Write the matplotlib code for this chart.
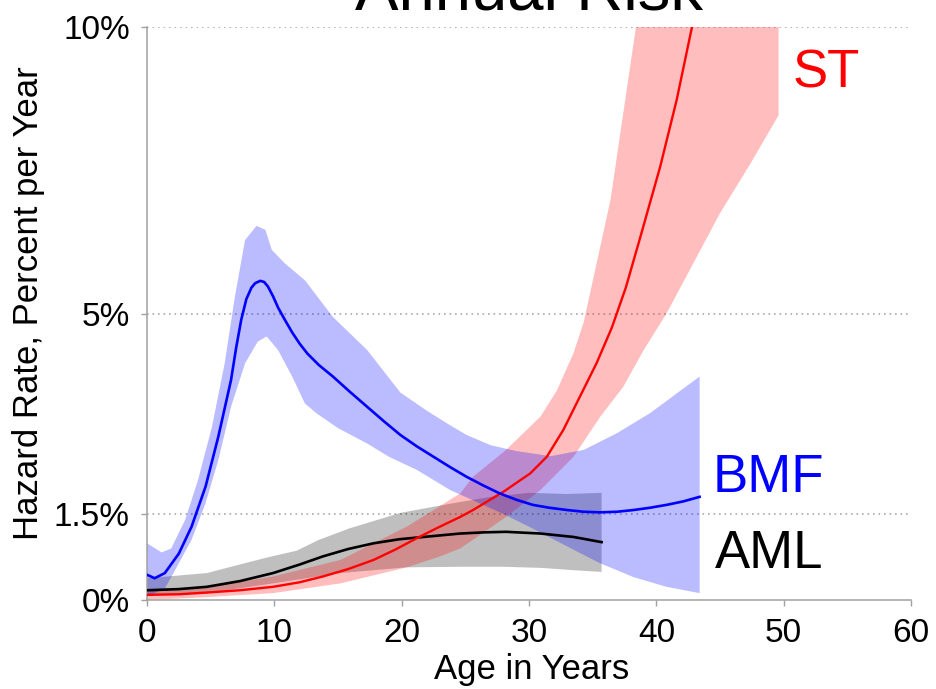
import matplotlib
matplotlib.use("Agg")
import matplotlib.pyplot as plt

plt.rcParams['font.family'] = ['Liberation Sans', 'DejaVu Sans']

# ---------------- data ----------------
title = "Annual Risk"
x_label = "Age in Years"
y_label = "Hazard Rate, Percent per Year"
y_ticks = [0, 1.5, 5, 10]
y_tick_labels = ["0%", "1.5%", "5%", "10%"]
x_ticks = [0, 10, 20, 30, 40, 50, 60]

# BMF (bone marrow failure)
bmf_x = [0, 0.6, 1.4, 2.5, 3.5, 4.6, 5.6, 6.6, 7.0, 7.4, 7.8, 8.2, 8.5, 8.9, 9.2, 9.5, 9.9,
         10.3, 10.8, 11.4, 12.0, 12.6, 13.5, 14.6, 16.0, 17.3, 18.6, 19.9, 21.2, 22.5, 23.8,
         25.1, 26.4, 27.7, 29.0, 30.3, 31.6, 33.0, 34.3, 35.6, 36.9, 38.2, 39.5, 40.8, 42.1, 43.4]
bmf_y = [0.44, 0.38, 0.47, 0.81, 1.28, 1.98, 2.85, 3.84, 4.40, 4.89, 5.25, 5.45, 5.53, 5.57, 5.55,
         5.47, 5.30, 5.10, 4.90, 4.67, 4.47, 4.30, 4.10, 3.90, 3.62, 3.37, 3.12, 2.88, 2.68, 2.50,
         2.32, 2.15, 2.00, 1.86, 1.75, 1.66, 1.61, 1.57, 1.54, 1.53, 1.54, 1.57, 1.61, 1.66, 1.72,
         1.80]
bmf_up_x = [0, 1.15, 1.9, 3.0, 4.0, 5.1, 6.1, 6.9, 7.7, 8.6, 9.3, 9.8, 10.8, 12.4, 14.6,
            17.3, 19.9, 22.0, 23.8, 25.1, 27.0, 29.0, 31.7, 34.3, 36.9, 39.5, 43.4]
bmf_up_y = [0.99, 0.83, 0.90, 1.40, 2.09, 3.02, 4.13, 5.29, 6.28, 6.53, 6.46, 6.11, 5.88, 5.58, 4.94,
            4.36, 3.62, 3.30, 3.05, 2.88, 2.70, 2.60, 2.51, 2.62, 2.91, 3.26, 3.90]
bmf_lo_x = [0, 1.4, 2.2, 3.5, 4.6, 5.6, 6.6, 7.7, 8.7, 9.4, 10.3, 11.4, 12.4, 13.3, 15.0,
            17.3, 19.0, 21.2, 23.8, 26.0, 28.0, 30.0, 32.0, 34.0, 35.6, 38.2, 40.8, 43.4]
bmf_lo_y = [0.06, 0.20, 0.52, 1.05, 1.69, 2.44, 3.37, 4.13, 4.51, 4.60, 4.36, 3.90, 3.43, 3.26, 3.00,
            2.73, 2.50, 2.27, 1.92, 1.70, 1.50, 1.28, 1.05, 0.82, 0.64, 0.40, 0.23, 0.12]

# ST (solid tumors)
st_x = [0, 2.5, 4.7, 7.3, 9.9, 12.0, 13.8, 15.8, 17.8, 19.5, 21.2, 23.0, 24.6, 25.6, 28.0,
        30.1, 31.4, 32.7, 34.0, 35.3, 36.5, 37.6, 38.7, 40.3, 41.6, 42.8, 44.5, 46.5, 49.6]
st_y = [0.09, 0.10, 0.13, 0.17, 0.23, 0.31, 0.41, 0.54, 0.70, 0.88, 1.08, 1.28, 1.45, 1.57, 1.89,
        2.21, 2.50, 2.97, 3.55, 4.13, 4.75, 5.45, 6.30, 7.56, 8.73, 10.0, 12.0, 14.5, 19.0]
st_up_x = [0, 4.7, 9.9, 15.2, 20.4, 24.6, 25.6, 28.2, 30.9, 32.2, 33.5, 34.3, 36.4, 38.4, 40.0, 49.6]
st_up_y = [0.17, 0.22, 0.41, 0.70, 1.28, 1.86, 2.15, 2.62, 3.20, 3.66, 4.31, 4.85, 6.98, 10.0, 12.5, 25.0]
st_lo_x = [0, 4.7, 9.9, 15.2, 20.4, 23.0, 24.6, 25.6, 28.2, 30.9, 33.5, 35.6, 37.4, 39.0, 40.8,
           45.0, 47.4, 49.6]
st_lo_y = [0.0, 0.05, 0.12, 0.29, 0.57, 0.76, 0.90, 1.05, 1.45, 1.92, 2.50, 3.20, 3.72, 4.36, 5.0,
           6.75, 7.62, 8.46]

# AML
aml_x = [0, 2.5, 4.7, 7.3, 9.9, 12.0, 13.8, 15.8, 17.8, 19.8, 21.7, 24.6, 26.4, 28.2, 30.9,
         33.5, 35.7]
aml_y = [0.17, 0.19, 0.23, 0.33, 0.47, 0.62, 0.76, 0.89, 0.99, 1.06, 1.10, 1.16, 1.18, 1.19, 1.16,
         1.10, 1.01]
aml_up_x = [0, 4.7, 7.3, 9.4, 11.75, 13.5, 15.9, 19.9, 23.8, 27.0, 30.0, 33.0, 35.7]
aml_up_y = [0.38, 0.47, 0.62, 0.74, 0.86, 1.05, 1.25, 1.52, 1.68, 1.80, 1.87, 1.85, 1.87]
aml_lo_x = [0, 4.7, 9.9, 15.2, 20.4, 24.6, 28.0, 31.0, 33.5, 35.7]
aml_lo_y = [0.09, 0.12, 0.29, 0.47, 0.57, 0.58, 0.58, 0.56, 0.52, 0.49]

series_names = ["ST", "BMF", "AML"]
series_colors = ["#ff0000", "#0000ff", "#000000"]

# ---------------- figure ----------------
fig = plt.figure(figsize=(9.37, 6.89), dpi=100)
ax = fig.add_axes([147 / 937, 89 / 689, 764 / 937, 573 / 689])


def band(xu, yu, xl, yl, color, alpha):
    px = list(xu) + list(reversed(xl))
    py = list(yu) + list(reversed(yl))
    ax.fill(px, py, color=color, alpha=alpha, lw=0, zorder=2)


band(aml_up_x, aml_up_y, aml_lo_x, aml_lo_y, "#000000", 0.25)
band(st_up_x, st_up_y, st_lo_x, st_lo_y, "#ff0000", 0.26)
band(bmf_up_x, bmf_up_y, bmf_lo_x, bmf_lo_y, "#0000ff", 0.265)

ax.plot(aml_x, aml_y, color=series_colors[2], lw=1.9, zorder=3, solid_joinstyle="round")
ax.plot(st_x, st_y, color=series_colors[0], lw=1.7, zorder=3, solid_joinstyle="round")
ax.plot(bmf_x, bmf_y, color=series_colors[1], lw=1.9, zorder=3, solid_joinstyle="round")

ax.set_xlim(0, 60)
ax.set_ylim(0, 10)

# gridlines (dotted)
for yv in y_ticks[1:]:
    ax.axhline(yv, color="#aaaaaa", lw=1.2, linestyle=(0, (1, 2.3)), zorder=1)

for s in ["top", "right"]:
    ax.spines[s].set_visible(False)
for s in ["left", "bottom"]:
    ax.spines[s].set_color("#a0a0a0")
    ax.spines[s].set_linewidth(1.1)

ax.set_yticks(y_ticks)
ax.set_yticklabels(y_tick_labels)
ax.set_xticks(x_ticks)
ax.tick_params(axis="both", direction="out", length=4.3, width=1.0, color="#a0a0a0",
               labelsize=24, labelcolor="black")
ax.tick_params(axis="y", pad=8)
ax.tick_params(axis="x", pad=9)

ax.set_xlabel(x_label, fontsize=25)
ax.set_ylabel(y_label, fontsize=25)
ax.xaxis.set_label_coords(0.504, -0.092)
ax.yaxis.set_label_coords(-0.133, 0.518)

# series labels
ax.text(50.7, 8.94, series_names[0], color=series_colors[0], fontsize=38, va="baseline", ha="left")
ax.text(44.4, 1.885, series_names[1], color=series_colors[1], fontsize=38, va="baseline", ha="left")
ax.text(44.6, 0.564, series_names[2], color=series_colors[2], fontsize=38, va="baseline", ha="left")

# title is partly above the top edge, as in the reference
fig.text(529 / 937, 1 - 10 / 689, title, fontsize=47, ha="center", va="baseline")

fig.savefig("out.png", dpi=100)
